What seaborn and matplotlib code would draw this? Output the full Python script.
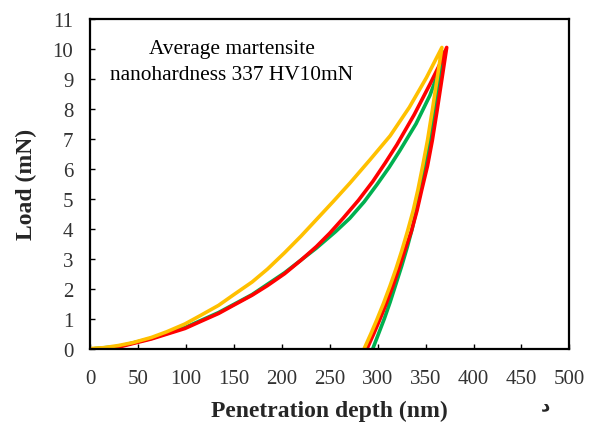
import matplotlib
matplotlib.use("Agg")
import matplotlib.pyplot as plt
import seaborn as sns
import pandas as pd

# depth (nm) / load (mN), loading then unloading
green_load_depth = [5, 30, 64, 99, 134, 169, 203, 236, 256, 271, 286, 299, 312, 323, 340, 354.5, 362, 368]
green_load_force = [0, 0.07, 0.34, 0.7, 1.2, 1.8, 2.53, 3.35, 3.9, 4.35, 4.9, 5.46, 6.05, 6.6, 7.5, 8.45, 9.1, 9.9]
green_unload_depth = [368, 364, 359, 355, 351, 346, 341, 336, 331, 325, 319, 313, 307, 301, 295]
green_unload_force = [9.9, 8.95, 7.95, 7.1, 6.3, 5.45, 4.7, 4.0, 3.4, 2.75, 2.15, 1.55, 1.0, 0.5, 0]

red_load_depth = [12, 30, 45, 64, 80, 99, 115, 134, 150, 169, 185, 203, 220, 236, 250, 264, 280, 295, 308, 320, 338, 354.5, 365, 372]
red_load_force = [0, 0.05, 0.17, 0.32, 0.48, 0.67, 0.9, 1.17, 1.45, 1.78, 2.1, 2.5, 2.95, 3.4, 3.85, 4.35, 4.95, 5.58, 6.2, 6.8, 7.8, 8.82, 9.5, 10.05]
red_unload_depth = [372, 367, 362, 357, 352, 346, 341, 335, 328, 322, 316, 309, 302, 296, 289]
red_unload_force = [10.05, 9.0, 7.95, 6.95, 6.1, 5.3, 4.6, 3.9, 3.25, 2.65, 2.1, 1.5, 0.95, 0.5, 0]

orange_load_depth = [0, 15, 29.5, 45, 64, 80, 99, 115, 134, 150, 169, 185, 203, 220, 236, 254, 271, 292, 313, 333, 351, 367]
orange_load_force = [0, 0.03, 0.1, 0.2, 0.37, 0.56, 0.82, 1.1, 1.44, 1.8, 2.22, 2.65, 3.2, 3.75, 4.3, 4.92, 5.52, 6.3, 7.1, 8.05, 9.05, 10.05]
orange_unload_depth = [367, 362, 357, 352, 347, 342, 337, 331, 325, 319, 313, 306, 299, 293, 286]
orange_unload_force = [10.05, 9.0, 7.95, 6.95, 6.1, 5.3, 4.6, 3.9, 3.25, 2.65, 2.1, 1.5, 0.95, 0.5, 0]

x_ticks = list(range(0, 501, 50))
y_ticks = list(range(0, 12))

note = "Average martensite\nnanohardness 337 HV10mN"

curves = [
    ("#00B050", green_load_depth + green_unload_depth, green_load_force + green_unload_force),
    ("#FF0000", red_load_depth + red_unload_depth, red_load_force + red_unload_force),
    ("#FFC000", orange_load_depth + orange_unload_depth, orange_load_force + orange_unload_force),
]

sns.set_style("white")
plt.rcParams["font.family"] = ["Liberation Serif", "DejaVu Serif"]

fig = plt.figure(figsize=(5.95, 4.31), dpi=100)
ax = fig.add_axes([0.1513, 0.189, 0.8057, 0.7646])

for color, depth, force in curves:
    df = pd.DataFrame({"depth": depth, "load": force})
    sns.lineplot(data=df, x="depth", y="load", sort=False, estimator=None,
                 color=color, linewidth=2.6, ax=ax)

ax.set_xlim(0, 500)
ax.set_ylim(0, 11)
ax.set_xticks(x_ticks)
ax.set_yticks(y_ticks)
ax.tick_params(axis="both", direction="in", length=3.8, width=1,
               labelsize=15, labelcolor="#333333", color="black",
               bottom=True, left=True, top=False, right=False)
ax.tick_params(axis="x", pad=15)
ax.tick_params(axis="y", pad=12)
for s in ax.spines.values():
    s.set_color("black")
    s.set_linewidth(1.6)

ax.set_xlabel("Penetration depth (nm)", fontsize=17, fontweight="bold", labelpad=8)
ax.set_ylabel("Load (mN)", fontsize=17, fontweight="bold", labelpad=11)

ax.text(148, 9.58, note, ha="center", va="center", fontsize=15.4,
        multialignment="center", linespacing=1.5, color="black")

fig.text(0.916, 0.06, "د", fontsize=13, fontweight="bold",
         family=["DejaVu Sans"], ha="center", va="center")

fig.savefig("out.png", dpi=100)
plt.close(fig)
